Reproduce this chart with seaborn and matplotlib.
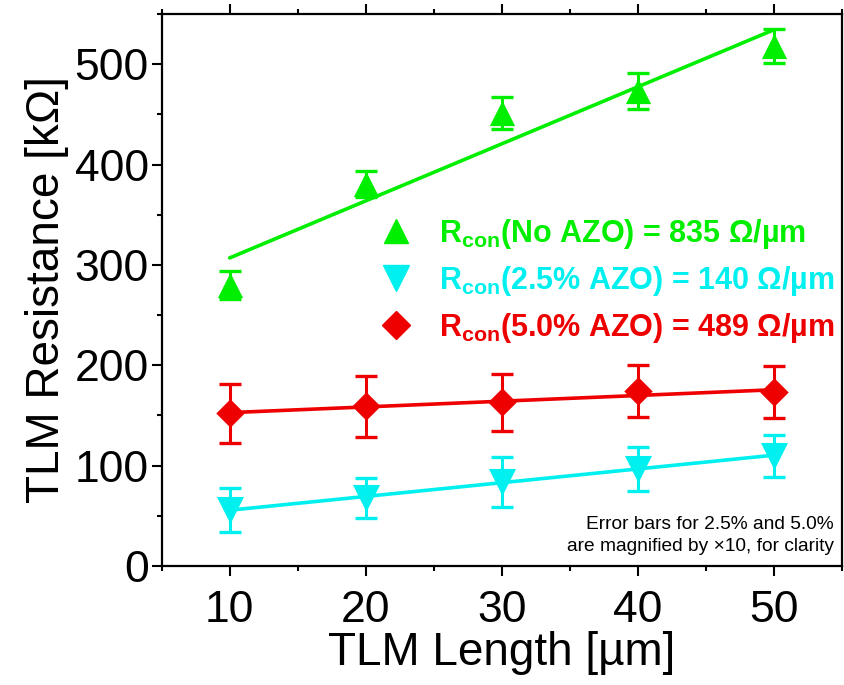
import numpy as np
import pandas as pd
import matplotlib
matplotlib.use('Agg')
import matplotlib.pyplot as plt
import seaborn as sns
from matplotlib.ticker import MultipleLocator
from matplotlib.lines import Line2D

# ---- data ----
lengths = [10, 20, 30, 40, 50]
r_no_azo = [280, 381, 451, 473, 518]
err_no_azo = [14, 13, 16, 18, 17]
r_25_azo = [56, 68, 84, 97, 110]
err_25_azo = [22, 20, 25, 22, 21]
r_50_azo = [152, 159, 163, 174, 173]
err_50_azo = [29, 30, 28, 26, 26]

series_names = ['No AZO', '2.5% AZO', '5.0% AZO']
rcon_values = [835, 140, 489]
x_ticks = [10, 20, 30, 40, 50]
y_ticks = [0, 100, 200, 300, 400, 500]

colors = ['#00EE00', '#00F0F0', '#EE0000']
markers = ['^', 'v', 'D']
marker_sizes = [330, 380, 210]

sns.set_theme(style='ticks')
plt.rcParams['font.family'] = ['Liberation Sans', 'DejaVu Sans']
plt.rcParams['mathtext.fontset'] = 'custom'
plt.rcParams['mathtext.rm'] = 'Liberation Sans'
plt.rcParams['mathtext.bf'] = 'Liberation Sans:bold'
plt.rcParams['text.color'] = 'black'
plt.rcParams['axes.labelcolor'] = 'black'
plt.rcParams['xtick.color'] = 'black'
plt.rcParams['ytick.color'] = 'black'

fig = plt.figure(figsize=(8.45, 6.85), dpi=100)
ax = fig.add_axes([161.7 / 845, 1 - 566 / 685, 680 / 845, 552 / 685])

all_vals = [r_no_azo, r_25_azo, r_50_azo]
all_errs = [err_no_azo, err_25_azo, err_50_azo]

handles = []
labels = []
for name, rc, vals, errs, c, m, s in zip(series_names, rcon_values, all_vals,
                                           all_errs, colors, markers, marker_sizes):
    coef = np.polyfit(lengths, vals, 1)
    fitted = np.polyval(coef, lengths)
    sns.lineplot(x=lengths, y=fitted, color=c, linewidth=2.6, ax=ax, zorder=2)
    ax.errorbar(lengths, vals, yerr=errs, fmt='none', ecolor=c, elinewidth=2.2,
                capsize=8, capthick=2.4, zorder=3)
    sns.scatterplot(x=lengths, y=vals, marker=m, s=s, color=c, edgecolor=c,
                    linewidth=0, ax=ax, zorder=4, legend=False)
    handles.append(Line2D([], [], linestyle='none', marker=m, color=c,
                          markersize=np.sqrt(s) * 0.95))
    labels.append(r'R$_{\mathbf{con}}$(' + name + f') = {rc} Ω/µm')

ax.set_xlim(5, 55)
ax.set_ylim(0, 550)
ax.set_xticks(x_ticks)
ax.set_yticks(y_ticks)
ax.xaxis.set_minor_locator(MultipleLocator(5))
ax.yaxis.set_minor_locator(MultipleLocator(50))

ax.tick_params(axis='both', which='major', direction='out', length=7.2, width=1.5,
               labelsize=32, colors='black', labelcolor='black')
ax.tick_params(axis='both', which='minor', direction='out', length=3.6, width=1.5)
ax.tick_params(axis='x', which='both', top=True, bottom=True, pad=10)
ax.tick_params(axis='y', which='both', left=True, right=False, pad=2)
for sp in ax.spines.values():
    sp.set_linewidth(1.6)
    sp.set_color('black')
    sp.set_visible(True)

ax.set_xlabel('TLM Length [µm]', fontsize=33, labelpad=0, color='black')
ax.set_ylabel('TLM Resistance [kΩ]', fontsize=33, labelpad=4, color='black')

leg = ax.legend(handles, labels, loc='upper left', bbox_to_anchor=(0.318, 0.632),
                frameon=False, prop={'weight': 'bold', 'size': 22},
                labelcolor=colors, handletextpad=0.8, labelspacing=0.42,
                borderaxespad=0, borderpad=0, handlelength=1.2)

ax.text(0.988, 0.02, 'Error bars for 2.5% and 5.0%\nare magnified by ×10, for clarity',
        transform=ax.transAxes, ha='right', va='bottom', fontsize=13.8,
        multialignment='right', color='black', linespacing=1.35)

fig.savefig('out.png', dpi=100)
